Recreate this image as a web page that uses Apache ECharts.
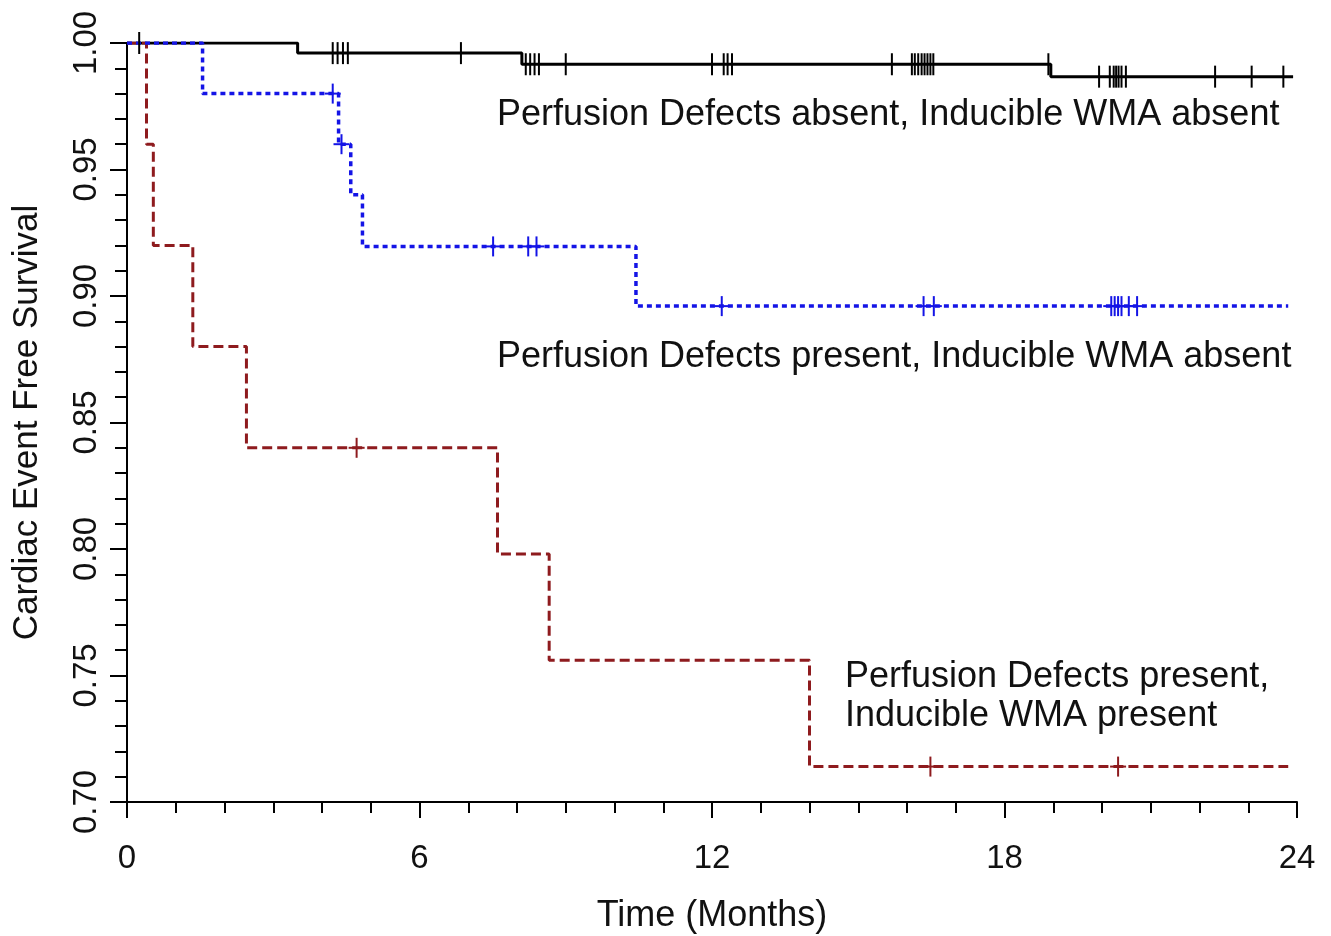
<!DOCTYPE html>
<html>
<head>
<meta charset="utf-8">
<script src="https://cdn.jsdelivr.net/npm/echarts@6/dist/echarts.min.js"></script>
<style>
  html, body { margin: 0; padding: 0; background: #fff; }
  #kmChart { width: 1331px; height: 936px; }
</style>
</head>
<body>
<div id="kmChart"></div>
<script>
// step points (time in months, survival)
const blackT = [0, 3.5, 8.1, 18.95, 23.92];
const blackS = [1.0, 0.996, 0.9916, 0.9867, 0.9867];
const blueT = [0, 1.55, 4.34, 4.59, 4.83, 10.44, 23.82];
const blueS = [1.0, 0.98, 0.96, 0.94, 0.9196, 0.896, 0.896];
const redT = [0, 0.4, 0.54, 1.35, 2.45, 7.6, 8.66, 14.0, 23.82];
const redS = [1.0, 0.96, 0.92, 0.88, 0.84, 0.798, 0.756, 0.714, 0.714];

// censored times
const blackCensor = [0.25, 4.22, 4.32, 4.43, 4.53, 6.85, 8.18, 8.27, 8.36, 8.45, 9.0,
  12.0, 12.24, 12.32, 12.41, 15.69, 16.1, 16.16, 16.23, 16.3, 16.36, 16.42, 16.48, 16.54,
  18.9, 19.94, 20.16, 20.24, 20.29, 20.34, 20.4, 20.49, 22.32, 23.07, 23.72];
const blueCensor = [4.22, 4.4, 7.51, 8.23, 8.4, 12.2, 16.34, 16.55,
  20.19, 20.26, 20.33, 20.4, 20.55, 20.72];
const redCensor = [4.71, 16.48, 20.33];

const xTicks = [0, 6, 12, 18, 24];

const FONT = "'Liberation Sans', Arial, sans-serif";

function pairs(t, s) {
  return t.map((v, i) => [v, s[i]]);
}
// survival of a step curve at time t (censor marks sit on the curve)
function stepAt(t, s, x) {
  let v = s[0];
  for (let i = 0; i < t.length; i++) {
    if (t[i] <= x) v = s[i];
  }
  return v;
}
function censorData(c, t, s) {
  return c.map(x => [x, stepAt(t, s, x)]);
}

function censorSeries(data, color, half, arm) {
  return {
    type: "custom",
    z: 5,
    data: data,
    renderItem: function(params, api) {
      const p = api.coord([api.value(0), api.value(1)]);
      const children = [{
        type: "line",
        shape: { x1: p[0], y1: p[1] - half, x2: p[0], y2: p[1] + half },
        style: { stroke: color, lineWidth: 2 }
      }];
      if (arm) {
        children.push({
          type: "line",
          shape: { x1: p[0] - arm, y1: p[1], x2: p[0] + arm, y2: p[1] },
          style: { stroke: color, lineWidth: 2 }
        });
      }
      return { type: "group", children: children };
    }
  };
}

const chart = echarts.init(document.getElementById("kmChart"));
chart.setOption({
  animation: false,
  backgroundColor: "#fff",
  grid: {
    left: 127,
    right: 34,
    top: 43,
    bottom: 134,
    outerBoundsMode: "none"
  },
  xAxis: {
    type: "value",
    min: 0,
    max: 24,
    interval: 6,
    name: "Time (Months)",
    nameLocation: "middle",
    nameGap: 96,
    nameTextStyle: { fontFamily: FONT, fontSize: 36, color: "#111" },
    axisLine: { lineStyle: { color: "#000", width: 2 } },
    axisTick: { length: 16, lineStyle: { color: "#000", width: 2 } },
    minorTick: { show: true, splitNumber: 6, length: 11, lineStyle: { color: "#000", width: 2 } },
    splitLine: { show: false },
    minorSplitLine: { show: false },
    axisLabel: {
      margin: 40,
      fontFamily: FONT,
      fontSize: 33,
      color: "#111",
      formatter: v => (xTicks.indexOf(v) >= 0 ? String(v) : "")
    }
  },
  yAxis: {
    type: "value",
    min: 0.7,
    max: 1.0,
    interval: 0.05,
    name: "Cardiac Event Free Survival",
    nameLocation: "middle",
    nameGap: 82,
    nameTextStyle: { fontFamily: FONT, fontSize: 35, color: "#111" },
    axisLine: { show: true, lineStyle: { color: "#000", width: 2 } },
    axisTick: { show: true, length: 17, lineStyle: { color: "#000", width: 2 } },
    minorTick: { show: true, splitNumber: 5, length: 12, lineStyle: { color: "#000", width: 2 } },
    splitLine: { show: false },
    minorSplitLine: { show: false },
    axisLabel: {
      rotate: 90,
      margin: 24,
      fontFamily: FONT,
      fontSize: 33,
      color: "#111",
      formatter: v => v.toFixed(2)
    }
  },
  series: [
    {
      name: "absent/absent",
      type: "line",
      step: "end",
      showSymbol: false,
      z: 3,
      lineStyle: { color: "#000", width: 3 },
      data: pairs(blackT, blackS)
    },
    {
      name: "present/present",
      type: "line",
      step: "end",
      showSymbol: false,
      z: 3,
      lineStyle: { color: "#8e1b1e", width: 3, type: [10, 5] },
      data: pairs(redT, redS)
    },
    {
      name: "present/absent",
      type: "line",
      step: "end",
      showSymbol: false,
      z: 4,
      lineStyle: { color: "#1414e6", width: 3.5, type: [5, 4] },
      data: pairs(blueT, blueS)
    },
    censorSeries(censorData(blackCensor, blackT, blackS), "#000", 11, 0),
    censorSeries(censorData(blueCensor, blueT, blueS), "#1414e6", 10, 8),
    censorSeries(censorData(redCensor, redT, redS), "#8e1b1e", 10, 8)
  ],
  graphic: [
    {
      type: "text", x: 497, y: 115,
      style: { text: "Perfusion Defects absent, Inducible WMA absent", font: "36px " + FONT, fill: "#111", verticalAlign: "middle" }
    },
    {
      type: "text", x: 497, y: 357,
      style: { text: "Perfusion Defects present, Inducible WMA absent", font: "36px " + FONT, fill: "#111", verticalAlign: "middle" }
    },
    {
      type: "text", x: 845, y: 677,
      style: { text: "Perfusion Defects present,", font: "36px " + FONT, fill: "#111", verticalAlign: "middle" }
    },
    {
      type: "text", x: 845, y: 716,
      style: { text: "Inducible WMA present", font: "36px " + FONT, fill: "#111", verticalAlign: "middle" }
    }
  ]
});
</script>
</body>
</html>
